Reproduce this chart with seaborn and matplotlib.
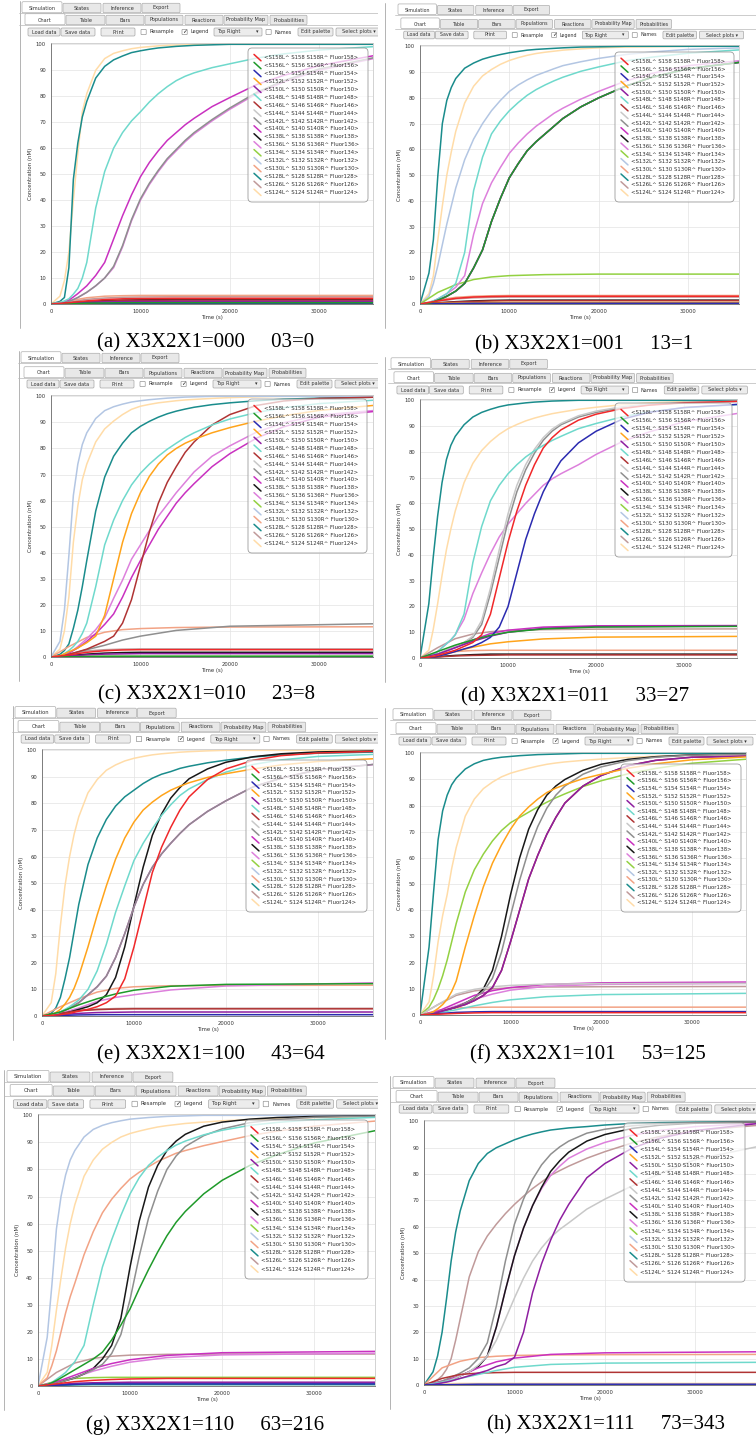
import pandas as pd
import matplotlib
matplotlib.use("Agg")
import matplotlib.pyplot as plt
import seaborn as sns
from matplotlib.patches import FancyBboxPatch
from matplotlib.ticker import MultipleLocator

sns.set_style("white")
plt.rcParams["font.family"] = ["DejaVu Sans"]

W, H = 756, 1440

# sample times (s): fine grid for rising curves, coarse grid for the flat low ones
T = [0, 1000, 1500, 2000, 2500, 3000, 3500, 4000, 5000, 6000, 7000, 8000, 9000, 10000,
     11000, 12000, 13000, 14000, 15000, 16000, 18000, 20000, 23000, 26000, 30000, 37000]
TL = [0, 2000, 4000, 6000, 8000, 10000, 14000, 20000, 37000]

species = ["S158", "S156", "S154", "S152", "S150", "S148", "S146", "S144", "S142",
           "S140", "S138", "S136", "S134", "S132", "S130", "S128", "S126", "S124"]
colors = ["#f0282a", "#1f9a2a", "#2b2bb0", "#ffa41b", "#8e1fa0", "#6fd9cc", "#b03434",
          "#c8c8c8", "#8f8f8f", "#c931c0", "#181818", "#dd80dc", "#93d142", "#b3c6e3",
          "#f2a385", "#1a8c8c", "#c09a9a", "#ffdca8"]
palette = dict(zip(species, colors))
legend_labels = ["<%sL^ %s %sR^ Fluor%s>" % (s, s, s, s[1:]) for s in species]

# ---------------- (a) X3X2X1=000
a_S124 = [0, 3, 9, 20, 40, 58, 74, 81, 90, 94.5, 96.5, 97.5, 98.3, 98.8, 99.1, 99.4, 99.6, 99.7, 99.8, 99.9, 100, 100, 100, 100, 100, 100]
a_S128 = [0, 1, 2.5, 14, 48, 62, 72, 78, 87, 91.5, 94, 95.5, 96.8, 97.5, 98.1, 98.6, 98.9, 99.2, 99.4, 99.6, 99.8, 100, 100, 100, 100, 100]
a_S148 = [0, 0.5, 1.2, 2, 3.8, 6, 10, 16, 37, 51, 60, 66, 70.5, 74, 77.8, 81, 83.7, 86, 87.7, 89, 91, 92.5, 94.7, 96.3, 97.8, 99.3]
a_S140 = [0, 0.3, 0.8, 1.5, 2.7, 4, 5.5, 7, 11, 16, 25, 34, 42, 49, 54.5, 59, 63, 66, 69, 71.5, 76, 79.5, 84.5, 88, 91.8, 96.2]
a_S136 = [0, 0.2, 0.6, 1, 1.7, 2.5, 3.5, 4.5, 7, 10, 14, 22, 32, 40, 46, 51, 55.5, 59, 62.5, 65.5, 70.5, 75, 81, 85.5, 90, 95.2]
a_S142 = [0, 0.2, 0.6, 1, 1.7, 2.5, 3.5, 4.5, 7, 10, 14.5, 22.5, 32.5, 40.5, 46.5, 51.5, 56, 59.5, 63, 66, 71, 75.5, 81.5, 86, 90.5, 95.5]
a_S130 = [0, 1.2, 2.4, 3.0, 3.2, 3.3, 3.3, 3.3, 3.3]
a_S126 = [0, 0.8, 1.8, 2.3, 2.6, 2.7, 2.8, 2.8, 2.8]
a_S158 = [0, 0.5, 1.2, 1.7, 2.0, 2.1, 2.2, 2.2, 2.2]
a_S138 = [0, 0.4, 0.9, 1.3, 1.5, 1.6, 1.7, 1.7, 1.7]
a_S146 = [0, 0.4, 0.8, 1.1, 1.3, 1.4, 1.5, 1.5, 1.5]
a_S150 = [0, 0.3, 0.6, 0.8, 0.9, 1.0, 1.0, 1.0, 1.0]
a_S156 = [0, 0.1, 0.3, 0.4, 0.5, 0.5, 0.5, 0.5, 0.5]
a_S154 = [0, 0.1, 0.2, 0.3, 0.3, 0.3, 0.3, 0.3, 0.3]
curves_a = {"S124": a_S124, "S128": a_S128, "S148": a_S148, "S140": a_S140, "S136": a_S136,
            "S142": a_S142, "S130": a_S130, "S126": a_S126, "S158": a_S158, "S138": a_S138,
            "S146": a_S146, "S150": a_S150, "S156": a_S156, "S154": a_S154}

# ---------------- (b) X3X2X1=001
b_S128 = [0, 12, 25, 50, 70, 79, 84, 87.5, 91.5, 93.5, 95, 96, 96.8, 97.5, 98, 98.5, 98.8, 99, 99.2, 99.4, 99.7, 99.8, 100, 100, 100, 100]
b_S124 = [0, 4, 11, 25, 38, 50, 59, 67, 78, 84.5, 88.5, 91, 93, 94.5, 95.6, 96.5, 97.2, 97.7, 98.1, 98.5, 99, 99.4, 99.7, 99.8, 100, 100]
b_S132 = [0, 3, 8, 15, 23, 31, 38, 45, 56, 64, 70, 75, 79, 82.5, 85, 87, 88.7, 90, 91.3, 92.5, 94, 95.3, 96.8, 97.8, 98.8, 99.5]
b_S148 = [0, 0.5, 1.2, 2, 3, 4, 6, 8, 20, 44, 57, 66, 71, 75, 78.2, 81, 83.2, 85, 86.6, 88, 90.3, 92, 94.3, 95.8, 97.3, 98.9]
b_S136 = [0, 0.5, 1.2, 2, 3, 4, 5.2, 6.5, 11, 27, 39, 47, 53, 58.5, 62.5, 66, 69, 71.5, 74, 76, 79.5, 82.5, 86.5, 89.5, 92.5, 94.8]
b_dark = [0, 0.3, 0.8, 1.5, 2.2, 3, 4, 5, 8, 14, 21, 32, 41, 49, 54.5, 59.5, 63, 66, 69, 72, 76.5, 80, 84.5, 88, 91.3, 94.3]
b_S134 = [0, 4.5, 7.5, 9.5, 10.5, 11.0, 11.4, 11.6, 11.6]
b_S158 = [0, 1.2, 2.2, 2.7, 2.9, 3.0, 3.0, 3.0, 3.0]
b_S130 = [0, 1.5, 2.6, 3.0, 3.2, 3.3, 3.3, 3.3, 3.3]
b_S126 = [0, 1.0, 2.0, 2.4, 2.6, 2.7, 2.7, 2.7, 2.7]
b_S138 = [0, 0.4, 0.9, 1.2, 1.4, 1.5, 1.5, 1.5, 1.5]
b_S146 = [0, 0.4, 0.8, 1.0, 1.2, 1.3, 1.3, 1.3, 1.3]
b_S152 = [0, 0.2, 0.4, 0.5, 0.6, 0.6, 0.6, 0.6, 0.6]
b_S154 = [0, 0.1, 0.2, 0.3, 0.3, 0.3, 0.3, 0.3, 0.3]
curves_b = {"S128": b_S128, "S124": b_S124, "S132": b_S132, "S148": b_S148, "S136": b_S136,
            "S142": b_dark, "S156": b_dark, "S140": b_dark, "S150": b_dark,
            "S134": b_S134, "S158": b_S158, "S130": b_S130, "S126": b_S126, "S138": b_S138,
            "S146": b_S146, "S152": b_S152, "S154": b_S154}

# ---------------- (c) X3X2X1=010
c_S132 = [0, 6, 18, 39, 62, 74, 81.5, 86, 91.5, 94.5, 96, 97, 97.8, 98.3, 98.7, 99, 99.3, 99.5, 99.7, 99.8, 100, 100, 100, 100, 100, 100]
c_S124 = [0, 3, 10, 23, 44, 58, 68, 74, 82.5, 87.5, 90.5, 93, 95, 96.2, 96.9, 97.5, 97.9, 98.3, 98.6, 98.8, 99.2, 99.5, 99.8, 100, 100, 100]
c_S128 = [0, 1, 2.5, 5, 11, 18, 27, 37, 56, 69, 77, 82, 86, 88.5, 90.4, 92, 93.3, 94.3, 95.1, 95.8, 96.8, 97.5, 98.3, 98.9, 99.3, 99.7]
c_S148 = [0, 0.5, 1.3, 2.5, 4, 6, 9, 13, 27, 43, 52.5, 60, 66, 70.5, 74, 77, 79.7, 82, 84.2, 86, 89, 91.3, 93.8, 95.6, 97.2, 98.7]
c_S152 = [0, 0.5, 1.2, 2, 2.7, 3.5, 4.5, 5.5, 8, 16, 30, 44, 55, 63, 69.3, 74, 77.5, 80, 82, 83.5, 86, 88, 90.5, 92.5, 94.6, 96.8]
c_S146 = [0, 0.3, 0.6, 1, 1.5, 2, 2.5, 3, 4.5, 6, 8, 13, 22, 35, 48, 59, 67, 73, 78.5, 82.5, 89, 93, 96.5, 98.2, 99.2, 99.7]
c_S136 = [0, 0.3, 0.8, 1.5, 2.7, 4, 5.5, 7, 10.5, 15, 22.5, 29.5, 37.5, 43, 48.5, 54, 58.5, 63, 67, 71, 77, 81, 86.3, 89.8, 92.8, 94.8]
c_S140 = [0, 0.3, 0.8, 1.5, 2.5, 3.5, 4.7, 6, 9, 12.5, 16.5, 23, 30.5, 37, 43, 49, 54, 59, 63, 66.5, 73, 78, 84, 88.3, 92, 94.5]
c_S130 = [0, 4.0, 7.5, 9.5, 10.5, 10.9, 11.3, 11.5, 11.6]
c_S142 = [0, 1.0, 2.8, 4.5, 6.5, 8.0, 10.2, 11.8, 12.8]
c_S126 = [0, 1.2, 2.3, 2.8, 3.0, 3.1, 3.1, 3.1, 3.1]
c_S158 = [0, 0.8, 1.8, 2.4, 2.7, 2.8, 2.8, 2.8, 2.8]
c_S138 = [0, 0.5, 1.1, 1.5, 1.7, 1.8, 1.8, 1.8, 1.8]
c_S150 = [0, 0.4, 0.8, 1.1, 1.2, 1.3, 1.3, 1.3, 1.3]
c_S156 = [0, 0.1, 0.2, 0.3, 0.3, 0.3, 0.3, 0.3, 0.3]
c_S134 = [0, 0.1, 0.2, 0.2, 0.2, 0.2, 0.2, 0.2, 0.2]
curves_c = {"S132": c_S132, "S124": c_S124, "S128": c_S128, "S148": c_S148, "S152": c_S152,
            "S146": c_S146, "S136": c_S136, "S140": c_S140, "S130": c_S130, "S142": c_S142,
            "S126": c_S126, "S158": c_S158, "S138": c_S138, "S150": c_S150, "S156": c_S156,
            "S134": c_S134}

# ---------------- (d) X3X2X1=011
d_S128 = [0, 21, 39, 55, 68, 77, 82.5, 86, 90.5, 93.5, 95.3, 96.5, 97.5, 98.2, 98.6, 99, 99.3, 99.5, 99.7, 99.8, 100, 100, 100, 100, 100, 100]
d_S124 = [0, 3, 11, 21, 32, 42, 50, 57, 68, 75.5, 80.5, 84, 86.8, 89, 90.6, 92, 93.1, 94, 94.8, 95.4, 96.5, 97.3, 98.3, 99, 99.5, 99.8]
d_S148 = [0, 0.5, 1.3, 2.5, 4, 5.5, 7, 9, 17, 37, 51, 61, 67, 71.5, 75, 78, 80.4, 82.5, 84.4, 86, 89, 91, 93.6, 95.5, 97.1, 98.5]
d_S136 = [0, 0.5, 1.3, 2.5, 4, 5.5, 7, 9, 15, 25, 33, 40.5, 47, 52, 56, 60, 63.5, 67, 69.5, 71.5, 75, 79, 84, 87.7, 91.7, 95.4]
d_S142 = [0, 0.5, 1, 1.5, 2.2, 3, 3.7, 4.5, 6, 8, 13, 25, 39, 53, 64.5, 73, 79.5, 84.5, 88, 90.5, 93.5, 95.3, 97.2, 98.3, 99.1, 99.6]
d_S144 = [0, 0.5, 1, 1.5, 2.2, 3, 3.7, 4.5, 6, 8.5, 14.5, 27, 42, 56, 67, 75, 81, 85.5, 88.8, 91, 94, 95.8, 97.5, 98.5, 99.2, 99.7]
d_S158 = [0, 0.3, 0.6, 1, 1.5, 2, 2.5, 3, 4.5, 6, 9, 17, 31, 45, 57, 67, 75, 81.5, 85.5, 88.5, 92.3, 94.6, 96.8, 98.1, 99, 99.7]
d_S154 = [0, 0.2, 0.4, 0.7, 1.1, 1.5, 2, 2.5, 3.5, 4.5, 6, 8, 12, 20, 33, 46, 56, 64.5, 71, 76.5, 83.5, 88, 92.7, 95.3, 97.2, 98.6]
d_S140 = [0, 1.5, 4.0, 7.0, 9.5, 10.8, 12.0, 12.5, 12.6]
d_S150 = [0, 1.5, 4.0, 6.5, 8.5, 10.0, 11.5, 12.2, 12.4]
d_S156 = [0, 2.5, 5.0, 7.0, 8.8, 10.0, 11.3, 12.0, 12.3]
d_S126 = [0, 4.0, 7.5, 9.3, 10.2, 10.7, 11.0, 11.2, 11.3]
d_S152 = [0, 0.8, 2.5, 4.2, 5.5, 6.3, 7.4, 8.1, 8.4]
d_S130 = [0, 1.5, 2.5, 2.9, 3.0, 3.0, 3.0, 3.0, 3.0]
d_S138 = [0, 0.5, 1.0, 1.3, 1.5, 1.5, 1.5, 1.5, 1.5]
d_S146 = [0, 0.4, 0.8, 1.0, 1.1, 1.2, 1.2, 1.2, 1.2]
curves_d = {"S128": d_S128, "S124": d_S124, "S148": d_S148, "S136": d_S136, "S142": d_S142,
            "S144": d_S144, "S158": d_S158, "S154": d_S154, "S140": d_S140, "S150": d_S150,
            "S156": d_S156, "S126": d_S126, "S152": d_S152, "S130": d_S130, "S138": d_S138,
            "S146": d_S146}

# ---------------- (e) X3X2X1=100
e_S124 = [0, 5, 16, 34, 49, 60, 68.5, 75, 84, 89, 92.5, 94.5, 96, 97, 97.7, 98.3, 98.7, 99, 99.3, 99.5, 99.8, 100, 100, 100, 100, 100]
e_S128 = [0, 1, 3, 7, 14, 22, 32, 42, 57, 67, 74, 79, 82.5, 85, 87.5, 89.5, 91, 92, 93.2, 94, 95.3, 96.3, 97.5, 98.3, 98.9, 99.4]
e_S152 = [0, 0.5, 1.3, 2.5, 4.5, 7, 10.5, 15, 26, 38, 49, 59, 67, 73, 77.5, 80.5, 83, 85, 86.5, 87.8, 89.8, 91.2, 93, 94.5, 95.8, 97]
e_S148 = [0, 0.3, 0.8, 1.5, 2.5, 3.5, 4.7, 6, 10, 17, 27, 39, 49, 58.5, 65, 70.5, 75.5, 79.5, 83, 85.5, 89, 91.8, 94.7, 96.4, 97.7, 98.6]
e_S138 = [0, 0.2, 0.5, 0.8, 1.1, 1.5, 2, 2.5, 3.5, 5, 8, 14.5, 26, 41.5, 56, 68, 76, 82, 86, 89.3, 93, 95.5, 97.6, 98.7, 99.4, 99.8]
e_S158 = [0, 0.2, 0.35, 0.5, 0.75, 1, 1.4, 1.8, 2.5, 3.5, 5, 7.5, 14, 26, 40, 54, 63.5, 71, 77.5, 82.5, 89, 93, 96.3, 98, 99, 99.7]
e_S140 = [0, 0.3, 0.8, 1.5, 2.2, 3, 4, 5, 8, 11, 15, 22, 31, 41, 49.5, 56, 61, 65, 68.7, 72, 77, 81, 86.3, 89.5, 92.7, 95]
e_S130 = [0, 3.5, 6.5, 9.0, 10.4, 11.0, 11.4, 11.5, 11.6]
e_S156 = [0, 1.5, 4.2, 6.5, 8.3, 9.7, 11.2, 11.9, 12.2]
e_S136 = [0, 1.0, 3.0, 5.5, 7.0, 8.0, 9.8, 11.3, 12.6]
e_S126 = [0, 1.2, 2.2, 2.6, 2.8, 2.9, 2.9, 2.9, 2.9]
e_S146 = [0, 1.0, 2.0, 2.4, 2.6, 2.7, 2.7, 2.7, 2.7]
e_S150 = [0, 0.5, 1.0, 1.3, 1.4, 1.5, 1.5, 1.5, 1.5]
e_S154 = [0, 0.2, 0.4, 0.5, 0.5, 0.5, 0.5, 0.5, 0.5]
curves_e = {"S124": e_S124, "S128": e_S128, "S152": e_S152, "S148": e_S148, "S138": e_S138,
            "S158": e_S158, "S142": e_S140, "S140": e_S140, "S130": e_S130, "S156": e_S156,
            "S136": e_S136, "S126": e_S126, "S146": e_S146, "S150": e_S150, "S154": e_S154}

# ---------------- (f) X3X2X1=101
f_S128 = [0, 26, 47, 67, 78, 84, 88, 90.5, 94, 96, 97.3, 98, 98.5, 98.8, 99.1, 99.3, 99.5, 99.6, 99.7, 99.8, 100, 100, 100, 100, 100, 100]
f_S124 = [0, 5, 15, 28, 38, 46, 56, 64, 76, 82.5, 86.5, 89, 91, 92.4, 93.4, 94.3, 95.1, 95.8, 96.3, 96.7, 97.3, 97.8, 98.4, 98.9, 99.3, 99.8]
f_S134 = [0, 3, 6, 10, 15, 21, 28, 35, 47, 55.5, 61.5, 66.5, 70.5, 73.5, 75.5, 77.5, 79.5, 81.3, 83, 84.5, 87.3, 89.5, 92.2, 94.2, 96.2, 98]
f_S152 = [0, 0.5, 1.3, 2.5, 4, 6, 9, 13, 26, 38, 49, 58, 65, 71, 76, 79.5, 82.5, 85, 86.7, 88, 90.3, 92, 94.3, 96, 97.5, 98.8]
f_S138 = [0, 0.3, 0.6, 1, 1.5, 2, 2.5, 3, 4.5, 6.5, 10, 17, 30, 46, 60, 71, 78.5, 84, 87.5, 90, 93.5, 95.8, 97.7, 98.7, 99.4, 99.8]
f_S142 = [0, 0.3, 0.6, 1, 1.5, 2, 2.5, 3, 4.5, 6.5, 9, 14, 24, 38, 51.5, 63, 72, 79, 84, 87.5, 92, 94.8, 97.2, 98.5, 99.3, 99.7]
f_S150 = [0, 0.3, 0.6, 1, 1.5, 2, 2.5, 3, 4, 5.5, 7.5, 10.5, 17, 28, 40, 52, 61, 69, 75.5, 81, 87.5, 91.5, 95.3, 97.3, 98.5, 99]
f_S144 = [0, 4.0, 8.0, 9.8, 10.8, 11.3, 11.8, 12.0, 12.1]
f_S126 = [0, 4.0, 7.5, 9.2, 10.0, 10.4, 10.7, 10.8, 10.9]
f_S140 = [0, 1.5, 4.5, 7.5, 9.3, 10.5, 11.7, 12.3, 12.6]
f_S136 = [0, 1.2, 3.5, 6.0, 8.0, 9.5, 11.0, 11.7, 12.1]
f_S148 = [0, 0.8, 2.0, 3.5, 4.8, 5.8, 7.0, 7.8, 8.3]
f_S130 = [0, 1.8, 2.7, 2.9, 3.0, 3.0, 3.0, 3.0, 3.0]
f_S154 = [0, 0.5, 1.0, 1.2, 1.3, 1.3, 1.3, 1.3, 1.3]
f_S158 = [0, 0.3, 0.6, 0.8, 0.9, 0.9, 0.9, 0.9, 0.9]
curves_f = {"S128": f_S128, "S124": f_S124, "S134": f_S134, "S152": f_S152, "S138": f_S138,
            "S142": f_S142, "S146": f_S150, "S150": f_S150, "S144": f_S144, "S126": f_S126,
            "S140": f_S140, "S136": f_S136, "S148": f_S148, "S130": f_S130, "S154": f_S154,
            "S158": f_S158}

# ---------------- (g) X3X2X1=110
g_S132 = [0, 18, 37, 58, 70, 78, 83.5, 87, 92, 94.8, 96.3, 97.3, 98, 98.6, 98.9, 99.2, 99.4, 99.6, 99.7, 99.8, 100, 100, 100, 100, 100, 100]
g_S124 = [0, 5, 15, 28, 40, 51, 60, 67, 77.5, 83.5, 87.5, 90, 92, 93.3, 94.2, 95, 95.7, 96.2, 96.6, 97, 97.5, 98, 98.4, 98.8, 99.2, 99.5]
g_S130 = [0, 3, 7.5, 13, 20, 27, 33, 38, 48.5, 57, 64, 69, 73, 76.5, 79, 81, 83, 84.5, 86, 87, 88.8, 90.3, 92.5, 94.2, 96, 98]
g_S148 = [0, 0.5, 1.3, 2.5, 3.7, 5, 7, 9, 15, 30, 44, 54, 63, 71, 77, 81.5, 84.5, 87, 89, 90.5, 92.8, 94.5, 96.3, 97.4, 98.4, 99.3]
g_S138 = [0, 0.3, 0.6, 1, 1.5, 2, 2.5, 3, 4.5, 6.5, 10, 15, 25, 44, 61, 73.5, 81.5, 87, 90.5, 93, 96, 97.5, 98.6, 99.2, 99.6, 99.8]
g_S142 = [0, 0.3, 0.6, 1, 1.5, 2, 2.5, 3, 4.5, 6, 8, 12, 19, 32, 48, 62, 72, 80, 85, 88.5, 92.5, 95, 97.3, 98.5, 99.3, 99.7]
g_S156 = [0, 0.5, 1.2, 2, 3, 4, 5, 6, 8, 10, 12.5, 17, 22.5, 28.5, 36, 43, 49.5, 55.5, 60.5, 64.5, 71, 76, 81.5, 85.5, 89.8, 94.6]
g_S126 = [0, 5.0, 8.5, 10.2, 11.0, 11.4, 11.7, 11.8, 11.8]
g_S140 = [0, 1.5, 4.0, 6.5, 8.3, 9.7, 11.3, 12.3, 12.8]
g_S136 = [0, 1.2, 3.2, 5.5, 7.3, 8.8, 10.5, 11.5, 12.1]
g_S134 = [0, 1.8, 2.8, 3.1, 3.2, 3.2, 3.2, 3.2, 3.2]
g_S158 = [0, 0.8, 1.6, 2.1, 2.4, 2.6, 2.8, 2.8, 2.8]
g_S150 = [0, 0.5, 1.0, 1.2, 1.3, 1.4, 1.4, 1.4, 1.4]
g_S154 = [0, 0.3, 0.6, 0.8, 0.8, 0.8, 0.8, 0.8, 0.8]
g_S128 = [0, 0.2, 0.4, 0.5, 0.5, 0.5, 0.5, 0.5, 0.5]
curves_g = {"S132": g_S132, "S124": g_S124, "S130": g_S130, "S148": g_S148, "S138": g_S138,
            "S142": g_S142, "S156": g_S156, "S126": g_S126, "S140": g_S140, "S136": g_S136,
            "S134": g_S134, "S158": g_S158, "S150": g_S150, "S154": g_S154, "S128": g_S128}

# ---------------- (h) X3X2X1=111
h_S128 = [0, 5, 11, 20, 33, 47, 58, 66, 77.5, 84, 87.8, 90, 91.5, 93, 94.2, 95.2, 96, 96.7, 97.1, 97.5, 98, 98.6, 99.2, 99.5, 99.7, 100]
h_S126 = [0, 1, 2, 3.5, 6, 10, 17, 25, 41, 50.5, 56.5, 61, 65, 68.5, 71.6, 74.5, 77, 79.5, 81.3, 83, 86, 88.5, 91.8, 94.2, 96.5, 98.5]
h_S142 = [0, 0.5, 1, 1.5, 2.2, 3, 3.7, 4.5, 6.5, 10, 16, 30, 47, 61, 70.5, 78, 83.5, 87.5, 90.3, 92.5, 95.5, 97, 98.3, 99, 99.5, 99.8]
h_S138 = [0, 0.3, 0.6, 1, 1.5, 2, 2.7, 3.5, 5, 7, 11, 22, 36, 49, 59.5, 68, 75, 81, 85, 88.3, 92.5, 95, 97.3, 98.5, 99.3, 99.8]
h_S150 = [0, 0.2, 0.5, 0.8, 1.1, 1.5, 2, 2.5, 3.5, 4.5, 5.5, 7, 8, 10.5, 20, 35, 46, 55, 62.5, 68.5, 78.6, 84, 89.8, 93.5, 96.5, 99.2]
h_S144 = [0, 0.3, 0.6, 1, 1.5, 2, 2.7, 3.5, 5, 7.5, 11, 17, 25, 33, 40.5, 47, 52, 56, 59, 61.5, 66.7, 70.5, 75.5, 80, 85.5, 90.5]
h_S136 = [0, 0.3, 0.6, 1, 1.5, 2, 2.7, 3.5, 5, 7, 11, 22, 36, 49, 59.5, 68, 74.5, 79.5, 83, 86, 89.5, 92, 94.7, 96.5, 98, 99.3]
h_S130 = [0, 6.5, 9.0, 10.4, 10.9, 11.2, 11.4, 11.5, 11.6]
h_S140 = [0, 1.5, 3.5, 6.5, 8.8, 10.2, 11.6, 12.2, 12.6]
h_S148 = [0, 1.0, 2.5, 4.0, 5.5, 6.7, 7.8, 8.3, 8.6]
h_S146 = [0, 2.5, 4.0, 4.5, 4.7, 4.8, 4.8, 4.8, 4.8]
h_S124 = [0, 0.4, 0.6, 0.6, 0.6, 0.6, 0.6, 0.6, 0.6]
h_S154 = [0, 0.1, 0.2, 0.3, 0.3, 0.3, 0.3, 0.3, 0.3]
curves_h = {"S128": h_S128, "S126": h_S126, "S142": h_S142, "S138": h_S138, "S150": h_S150,
            "S144": h_S144, "S136": h_S136, "S130": h_S130, "S140": h_S140, "S148": h_S148,
            "S146": h_S146, "S124": h_S124, "S154": h_S154}

curves = {"a": curves_a, "b": curves_b, "c": curves_c, "d": curves_d,
          "e": curves_e, "f": curves_f, "g": curves_g, "h": curves_h}

captions = {"a": "(a) X3X2X1=000     03=0", "b": "(b) X3X2X1=001     13=1",
            "c": "(c) X3X2X1=010     23=8", "d": "(d) X3X2X1=011     33=27",
            "e": "(e) X3X2X1=100     43=64", "f": "(f) X3X2X1=101     53=125",
            "g": "(g) X3X2X1=110     63=216", "h": "(h) X3X2X1=111     73=343"}

# screen layout of the eight screenshots, in pixels (left, top, right, bottom)
panels = [
    dict(key="a", col=0, ax=(51, 43, 373, 304), xmax=36000, wl=22, s=1.0, rows=(8, 20, 32),
         leg=(248, 48, 368, 202), border=20, cap=(206, 343)),
    dict(key="b", col=1, ax=(420, 45, 739, 304), xmax=35700, wl=398, s=0.96, rows=(10, 24, 35),
         leg=(615, 52, 734, 202), border=385, cap=(584, 345)),
    dict(key="c", col=0, ax=(51, 395, 373, 657), xmax=36000, wl=21, s=1.0, rows=(358, 373, 384),
         leg=(248, 399, 367, 553), border=19, cap=(206, 695)),
    dict(key="d", col=1, ax=(420, 399, 737, 658), xmax=36000, wl=391, s=0.99, rows=(364, 378, 390),
         leg=(615, 403, 732, 557), border=385, cap=(575, 697)),
    dict(key="e", col=0, ax=(42, 749, 373, 1016), xmax=36000, wl=15, s=1.02, rows=(713, 727, 739),
         leg=(246, 760, 367, 912), border=13, cap=(211, 1055)),
    dict(key="f", col=1, ax=(420, 752, 746, 1015), xmax=36000, wl=393, s=1.0, rows=(715, 729, 741),
         leg=(621, 764, 741, 912), border=385, cap=(588, 1055)),
    dict(key="g", col=0, ax=(38, 1114, 375, 1386), xmax=36600, wl=7, s=1.05, rows=(1077, 1091, 1104),
         leg=(245, 1120, 368, 1279), border=4, cap=(205, 1425)),
    dict(key="h", col=1, ax=(424, 1120, 756, 1385), xmax=36700, wl=393, s=1.025, rows=(1083, 1097, 1109),
         leg=(624, 1123, 745, 1282), border=390, cap=(606, 1425)),
]

TABS1 = [("Simulation", 0, 40), ("States", 41, 79), ("Inference", 81, 119), ("Export", 120, 158)]
TABS2 = [("Chart", 3, 43), ("Table", 44, 83), ("Bars", 84, 122), ("Populations", 123, 161),
         ("Reactions", 163, 201), ("Probability Map", 202, 246), ("Probabilities", 248, 285)]
BUTTONS = [("Load data", 6, 38), ("Save data", 39, 73), ("Print", 79, 113),
           ("Edit palette", 276, 311), ("Select plots \u25be", 314, 360)]
CHECKS = [("Resample", 119, False), ("Legend", 160, True), ("Names", 244, False)]


def draw_ui(ax, p):
    wl, s = p["wl"], p["s"]
    r1, r2, r3 = p["rows"]
    right = 378 if p["col"] == 0 else 756
    fs = 3.6 * s
    th = 9.5 * s
    ax.plot([p["border"]] * 2, [r1 - 7, p["ax"][3] + 24], color="#a7a7a7", lw=0.6)
    for r in (r1, r2):
        ax.plot([wl - 3, right], [r + th / 2, r + th / 2], color="#b8b8b8", lw=0.5)
    for row, tabs, active in ((r1, TABS1, "Simulation"), (r2, TABS2, "Chart")):
        for label, a, b in tabs:
            on = label == active
            lift = 1.5 if on else 0
            ax.add_patch(FancyBboxPatch((wl + a * s, row - th / 2 - lift), (b - a) * s, th + lift,
                                        boxstyle="round,pad=0,rounding_size=1.2",
                                        fc="white" if on else "#e8e8e8", ec="#a6a6a6", lw=0.45))
            ax.text(wl + (a + b) / 2 * s, row, label, ha="center", va="center",
                    fontsize=fs, color="#333333", clip_on=True)
    bh = 8 * s
    for label, a, b in BUTTONS:
        ax.add_patch(FancyBboxPatch((wl + a * s, r3 - bh / 2), (b - a) * s, bh,
                                    boxstyle="round,pad=0,rounding_size=1.2",
                                    fc="#ececec", ec="#9f9f9f", lw=0.45))
        ax.text(wl + (a + b) / 2 * s, r3, label, ha="center", va="center",
                fontsize=fs, color="#333333", clip_on=True)
    for label, a, checked in CHECKS:
        cb = 5.2 * s
        ax.add_patch(FancyBboxPatch((wl + a * s, r3 - cb / 2), cb, cb,
                                    boxstyle="round,pad=0,rounding_size=0.6",
                                    fc="white", ec="#8a8a8a", lw=0.45))
        if checked:
            ax.text(wl + a * s + cb / 2, r3, "\u2713", ha="center", va="center",
                    fontsize=fs * 1.2, color="#222222", clip_on=True)
        ax.text(wl + (a + 8.5) * s, r3, label, ha="left", va="center",
                fontsize=fs, color="#333333", clip_on=True)
    ax.add_patch(FancyBboxPatch((wl + 192 * s, r3 - bh / 2), 48 * s, bh,
                                boxstyle="round,pad=0,rounding_size=1",
                                fc="#ececec", ec="#9f9f9f", lw=0.45))
    ax.text(wl + 195 * s, r3, "Top Right", ha="left", va="center", fontsize=fs,
            color="#333333", clip_on=True)
    ax.text(wl + 235 * s, r3, "\u25be", ha="center", va="center", fontsize=fs,
            color="#333333", clip_on=True)


def draw_legend(ov, box):
    x0, y0, x1, y1 = box
    h = y1 - y0
    ov.add_patch(FancyBboxPatch((x0, y0), x1 - x0, h, boxstyle="round,pad=0,rounding_size=4",
                                fc=(1, 1, 1, 0.72), ec="#9c9c9c", lw=0.6))
    top = y0 + h * 0.0625
    step = h * 0.875 / (len(species) - 1)
    for i, (sp, lab) in enumerate(zip(species, legend_labels)):
        yy = top + i * step
        ov.plot([x0 + 6, x0 + 13], [yy - 3.2, yy + 3.2], color=palette[sp], lw=1.1)
        ov.text(x0 + 16, yy, lab, fontsize=3.9, ha="left", va="center", color="#303030")


fig = plt.figure(figsize=(W / 100, H / 100), dpi=100)
fig.patch.set_facecolor("white")

ui_axes = []
for col in (0, 1):
    ua = fig.add_axes([col * 0.5, 0, 0.5, 1], zorder=0)
    ua.set_xlim(col * 378, (col + 1) * 378)
    ua.set_ylim(H, 0)
    ua.set_axis_off()
    ui_axes.append(ua)

overlay = fig.add_axes([0, 0, 1, 1], zorder=5)
overlay.set_xlim(0, W)
overlay.set_ylim(H, 0)
overlay.set_axis_off()

for p in panels:
    draw_ui(ui_axes[p["col"]], p)

    L, Tp, R, B = p["ax"]
    ax = fig.add_axes([L / W, 1 - B / H, (R - L) / W, (B - Tp) / H], zorder=2)
    data = curves[p["key"]]
    rows = []
    for sp, vals in data.items():
        tt = T if len(vals) == len(T) else TL
        rows += [(sp, t, v) for t, v in zip(tt, vals)]
    df = pd.DataFrame(rows, columns=["species", "time", "conc"])
    order = [sp for sp in species[::-1] if sp in data]
    sns.lineplot(data=df, x="time", y="conc", hue="species", hue_order=order,
                 palette={sp: palette[sp] for sp in order}, estimator=None,
                 linewidth=1.1, legend=False, ax=ax)

    ax.set_xlim(0, p["xmax"])
    ax.set_ylim(0, 100.5)
    ax.set_facecolor("white")
    ax.xaxis.set_major_locator(MultipleLocator(10000))
    ax.xaxis.set_minor_locator(MultipleLocator(2000))
    ax.yaxis.set_major_locator(MultipleLocator(10))
    ax.yaxis.set_minor_locator(MultipleLocator(2))
    ax.tick_params(which="major", direction="out", length=2.4, width=0.5, color="#555555",
                   labelsize=3.8, labelcolor="#333333", pad=1.2)
    ax.tick_params(which="minor", direction="out", length=1.3, width=0.4, color="#777777")
    ax.grid(True, which="major", color="#e3e3e3", lw=0.5)
    ax.set_axisbelow(True)
    for side in ("top", "right"):
        ax.spines[side].set_color("#c0c0c0")
        ax.spines[side].set_linewidth(0.5)
    for side in ("left", "bottom"):
        ax.spines[side].set_color("#6a6a6a")
        ax.spines[side].set_linewidth(0.6)
    ax.set_xlabel("Time (s)", fontsize=3.9, labelpad=1, color="#333333")
    ax.set_ylabel("Concentration (nM)", fontsize=3.9, labelpad=2, color="#333333")

    draw_legend(overlay, p["leg"])

    cx, cy = p["cap"]
    fig.text(cx / W, 1 - cy / H, captions[p["key"]], ha="center", va="center",
             fontsize=15, family="Liberation Serif", color="black")

fig.savefig("out.png", dpi=100)
